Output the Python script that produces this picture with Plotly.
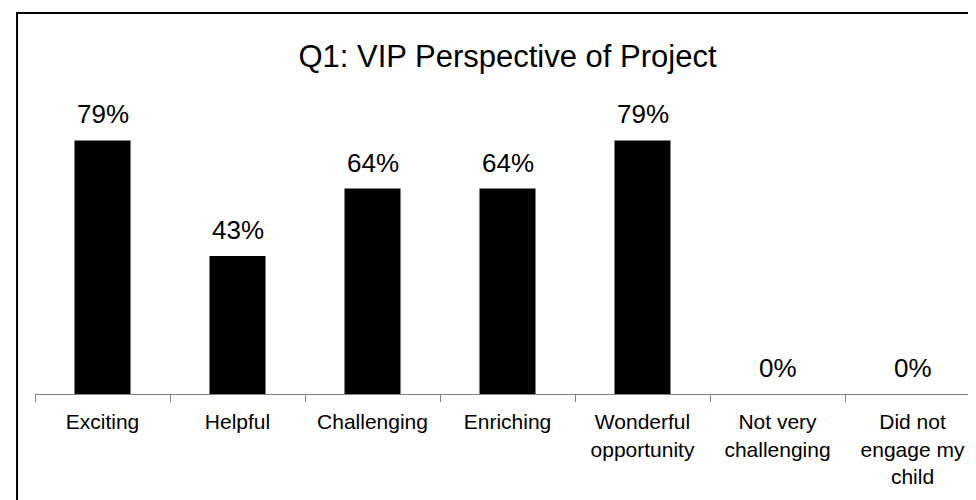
"""Q1 bar chart: VIP perspective of project."""

import plotly.graph_objects as go

# ===== Data =====
categories = [
    "Exciting",
    "Helpful",
    "Challenging",
    "Enriching",
    "Wonderful<br>opportunity",
    "Not very<br>challenging",
    "Did not<br>engage my<br>child",
]
shares = [0.79, 0.43, 0.64, 0.64, 0.79, 0.0, 0.0]
value_labels = ["79%", "43%", "64%", "64%", "79%", "0%", "0%"]

FONT = "Arial, Liberation Sans, sans-serif"

fig = go.Figure(
    go.Bar(
        x=categories,
        y=shares,
        marker={"color": "#000000", "line": {"width": 0}},
        hoverinfo="skip",
    )
)

# value labels above each bar
for cat, val, lab in zip(categories, shares, value_labels):
    fig.add_annotation(
        x=cat, y=val, text=lab, showarrow=False,
        xanchor="center", yanchor="bottom", yshift=9,
        font={"family": FONT, "size": 26, "color": "#000000"},
    )

fig.update_layout(
    width=976,
    height=500,
    margin={"t": 65, "r": 4, "b": 114, "l": 27, "autoexpand": False},
    paper_bgcolor="#ffffff",
    plot_bgcolor="#ffffff",
    bargap=0.585,
    showlegend=False,
    title={
        "text": "Q1: VIP Perspective of Project",
        "x": 0.5, "xref": "paper", "xanchor": "center",
        "y": 0.904, "yanchor": "middle",
        "font": {"family": FONT, "size": 31, "color": "#000000"},
    },
    font={"family": FONT, "color": "#000000"},
    shapes=[{
        "type": "rect", "xref": "paper", "yref": "paper",
        "x0": -0.019, "x1": 1.2, "y0": -1.0, "y1": 1.187,
        "line": {"color": "#000000", "width": 2},
        "fillcolor": "rgba(0,0,0,0)",
        "layer": "below",
    }],
)

fig.update_xaxes(
    automargin=False,
    showline=True, linecolor="#808080", linewidth=1,
    ticks="outside", tickson="boundaries", ticklen=7,
    tickcolor="#808080", tickwidth=1,
    showgrid=False, tickangle=0, ticklabelstandoff=9,
    tickfont={"family": FONT, "size": 21, "color": "#000000"},
)
fig.update_yaxes(range=[0, 1], visible=False, showgrid=False, zeroline=False,
                 automargin=False)

fig.write_html("out.html")
